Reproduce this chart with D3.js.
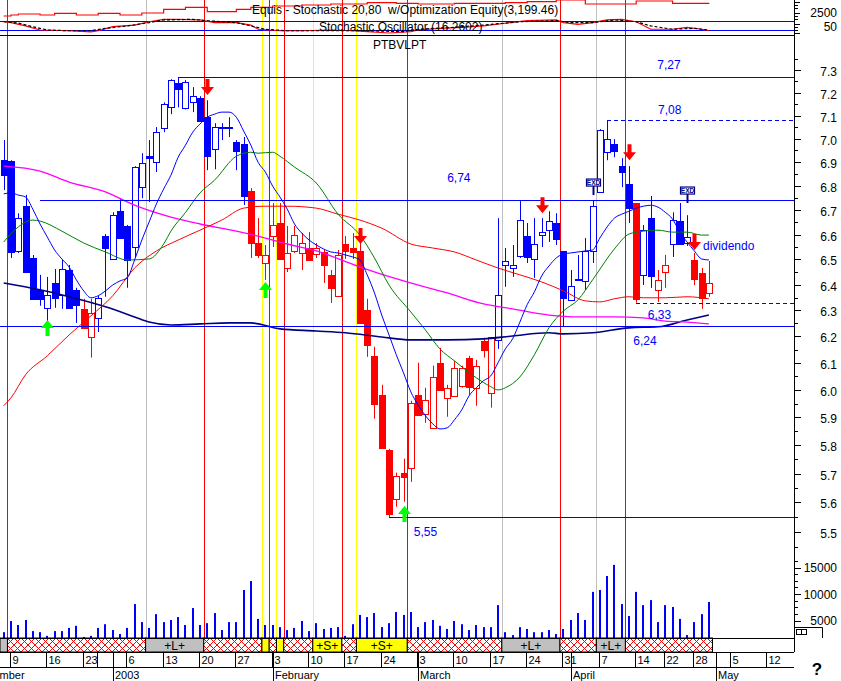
<!DOCTYPE html>
<html><head><meta charset="utf-8">
<script src="https://cdn.jsdelivr.net/npm/d3@7"></script>
<style>body{margin:0;background:#fff}svg{display:block;font-family:"Liberation Sans",Arial,sans-serif}text{white-space:pre}</style>
</head><body><svg id="c" width="841" height="681"></svg>
<script>
// ---------------- DATA ----------------
const dates = ["2002-12-06","2002-12-09","2002-12-10","2002-12-11","2002-12-12","2002-12-13",
"2002-12-16","2002-12-17","2002-12-18","2002-12-19","2002-12-20","2002-12-23","2002-12-24","2002-12-30","2002-12-31",
"2003-01-02","2003-01-03","2003-01-06","2003-01-07","2003-01-08","2003-01-09","2003-01-10",
"2003-01-13","2003-01-14","2003-01-15","2003-01-16","2003-01-17","2003-01-20","2003-01-21","2003-01-22","2003-01-23","2003-01-24",
"2003-01-27","2003-01-28","2003-01-29","2003-01-30","2003-01-31","2003-02-03","2003-02-04","2003-02-05","2003-02-06","2003-02-07",
"2003-02-10","2003-02-11","2003-02-12","2003-02-13","2003-02-14","2003-02-17","2003-02-18","2003-02-19","2003-02-20","2003-02-21",
"2003-02-24","2003-02-25","2003-02-26","2003-02-27","2003-02-28","2003-03-03","2003-03-04","2003-03-05","2003-03-06","2003-03-07",
"2003-03-10","2003-03-11","2003-03-12","2003-03-13","2003-03-14","2003-03-17","2003-03-18","2003-03-19","2003-03-20","2003-03-21",
"2003-03-24","2003-03-25","2003-03-26","2003-03-27","2003-03-28","2003-03-31","2003-04-01","2003-04-02","2003-04-03","2003-04-04",
"2003-04-07","2003-04-08","2003-04-09","2003-04-10","2003-04-11","2003-04-14","2003-04-15","2003-04-16","2003-04-17",
"2003-04-22","2003-04-23","2003-04-24","2003-04-25","2003-04-28","2003-04-29","2003-04-30"];
const futureDates = ["2003-05-01","2003-05-02","2003-05-05","2003-05-06","2003-05-07","2003-05-08","2003-05-09","2003-05-12","2003-05-13","2003-05-14","2003-05-15","2003-05-16"];

const opens = [6.908,6.904,6.534,6.716,6.506,6.380,6.310,6.407,6.361,6.458,6.380,6.306,6.198,6.271,6.594,
6.502,6.695,6.635,6.550,6.795,6.925,6.899,7.046,7.136,7.243,7.132,7.158,7.176,7.093,6.955,7.046,7.050,
6.985,6.977,6.779,6.566,6.486,6.594,6.647,6.466,6.534,6.526,6.546,6.522,6.530,6.439,6.357,6.562,6.546,6.534,6.302,6.127,
5.982,5.784,5.612,5.703,5.720,5.982,5.913,5.862,6.101,5.971,5.978,6.015,6.120,6.008,6.183,5.989,6.187,6.478,6.466,6.514,
6.594,6.502,6.598,6.618,6.647,6.534,6.341,6.419,6.415,6.534,6.775,6.942,6.977,6.883,6.808,6.729,6.439,6.667,6.380,
6.450,6.562,6.655,6.566,6.498,6.446,6.368];
const highs = [6.994,6.908,6.687,6.763,6.518,6.439,6.431,6.462,6.498,6.478,6.388,6.345,6.345,6.357,6.602,
6.691,6.745,6.639,6.883,6.938,6.994,7.050,7.158,7.260,7.270,7.256,7.225,7.185,7.167,7.067,7.067,7.093,
6.994,7.007,6.791,6.667,6.558,6.729,6.729,6.635,6.635,6.606,6.610,6.566,6.538,6.458,6.538,6.594,6.606,6.570,6.345,6.161,
6.019,5.787,5.703,5.752,5.960,6.101,6.008,6.090,6.157,6.019,6.108,6.090,6.127,6.112,6.195,6.198,6.667,6.546,6.558,6.737,
6.647,6.667,6.667,6.695,6.687,6.534,6.458,6.518,6.586,6.741,7.041,7.080,6.998,6.917,6.883,6.729,6.639,6.758,6.458,
6.518,6.691,6.729,6.679,6.526,6.466,6.494];
const lows = [6.783,6.506,6.526,6.446,6.341,6.318,6.255,6.310,6.306,6.306,6.252,6.229,6.120,6.217,6.353,
6.498,6.582,6.388,6.506,6.749,6.733,6.858,7.028,7.106,7.136,7.127,7.115,7.072,6.866,6.870,6.994,7.007,
6.866,6.721,6.506,6.506,6.419,6.550,6.498,6.450,6.526,6.458,6.494,6.506,6.407,6.329,6.353,6.502,6.502,6.248,6.123,5.895,
5.787,5.550,5.585,5.602,5.671,5.906,5.880,5.858,5.997,5.902,5.975,6.008,5.982,5.942,6.120,5.935,6.153,6.392,6.431,6.506,
6.486,6.427,6.550,6.570,6.558,6.237,6.337,6.415,6.380,6.486,6.771,6.908,6.921,6.795,6.647,6.330,6.399,6.388,6.333,
6.388,6.510,6.558,6.554,6.399,6.306,6.353];
const closes = [6.845,6.530,6.667,6.450,6.345,6.345,6.361,6.349,6.462,6.310,6.322,6.233,6.290,6.349,6.546,
6.679,6.586,6.498,6.879,6.895,6.917,7.028,7.149,7.256,7.216,7.247,7.185,7.076,6.925,7.050,7.050,7.046,
6.947,6.758,6.566,6.518,6.518,6.639,6.502,6.526,6.598,6.566,6.498,6.546,6.478,6.388,6.518,6.534,6.530,6.252,6.168,5.949,
5.791,5.561,5.692,5.689,5.953,5.909,5.964,6.048,6.000,6.008,6.082,6.082,6.012,6.090,6.150,6.198,6.361,6.494,6.478,6.659,
6.510,6.562,6.610,6.655,6.582,6.349,6.396,6.423,6.534,6.716,7.037,6.998,6.947,6.858,6.708,6.345,6.618,6.435,6.419,
6.478,6.659,6.562,6.590,6.423,6.349,6.407];
// candle colour group runs: B = blue, R = red
const candleGroupRuns = [["B",11],["R",2],["B",21],["R",34],["B",19],["R",1],["B",2],["R",2],["B",3],["R",3]];

const volumes = [2800,4900,4150,5100,3000,2800,2100,3000,3000,3600,4000,1900,2100,3600,4300,3200,2450,
3600,8100,4700,3600,6200,4700,5100,5650,4150,7350,4150,4500,6400,3200,4700,4700,10750,12450,5300,4150,
4150,3750,3200,3600,4900,3000,4500,3400,3600,3750,2100,4300,6050,5650,6400,3750,4500,6600,6050,6600,
3750,4700,5100,4000,3400,4900,4300,3200,4150,3750,3750,7900,2800,2250,3750,3400,2800,2800,3200,2450,
3400,5100,6400,5100,10400,10750,13400,15500,8100,5850,10400,7900,8850,4700,7900,7550,5300,2250,4700,6200,8500];

// Moving averages
const maBlue = [6.767,6.771,6.762,6.754,6.704,6.643,6.590,6.538,6.502,6.470,
6.419,6.376,6.349,6.357,6.376,6.399,6.415,6.427,6.498,6.578,
6.651,6.725,6.787,6.845,6.921,6.972,7.028,7.063,7.093,7.106,
7.115,7.115,7.093,7.033,6.972,6.899,6.858,6.799,6.754,6.704,
6.643,6.606,6.578,6.558,6.542,6.530,6.526,6.518,6.510,6.498,
6.439,6.368,6.282,6.206,6.131,6.063,5.993,5.945,5.906,5.877,
5.858,5.862,5.891,5.927,5.978,6.008,6.034,6.052,6.101,6.153,
6.191,6.255,6.322,6.372,6.435,6.474,6.506,6.522,6.526,6.530,
6.534,6.538,6.586,6.631,6.667,6.683,6.695,6.708,6.716,6.720,
6.712,6.691,6.663,6.610,6.570,6.534,6.502,6.498];
const maGreen = [[0,6.570],[2,6.631],[4,6.659],[5,6.655],[8,6.614],[11,6.566],[14,6.530],[17,6.498],[20,6.502],
[22,6.562],[23,6.614],[25,6.690],[27,6.771],[29,6.824],[32,6.925],[34,6.942],[35,6.938],[37,6.942],[38,6.925],
[40,6.879],[43,6.812],[46,6.683],[49,6.598],[51,6.506],[53,6.399],[56,6.294],[58,6.225],[60,6.153],[62,6.108],
[65,6.045],[67,6.012],[68,6.000],[69,6.008],[71,6.048],[73,6.131],[75,6.233],[77,6.298],[79,6.341],[81,6.419],
[84,6.542],[86,6.602],[88,6.614],[90,6.618],[92,6.610],[94,6.610],[96,6.598],[97,6.598]];
const maRed = [[0,5.942],[1,5.971],[3,6.056],[6,6.127],[9,6.206],[12,6.279],[15,6.357],[18,6.466],[21,6.534],
[24,6.578],[27,6.618],[30,6.659],[33,6.708],[36,6.716],[39,6.716],[43,6.708],[46,6.683],[49,6.659],[52,6.626],
[56,6.562],[59,6.546],[62,6.530],[65,6.498],[68,6.466],[71,6.439],[74,6.411],[77,6.376],[80,6.337],[82,6.333],
[84,6.345],[86,6.353],[88,6.349],[91,6.349],[94,6.353],[97,6.345]];
const maMagenta = [[0,6.883],[5,6.862],[9,6.816],[14,6.775],[18,6.720],[23,6.671],[27,6.643],[32,6.614],[36,6.586],
[39,6.562],[43,6.534],[49,6.470],[55,6.415],[61,6.368],[66,6.325],[70,6.306],[75,6.282],[79,6.275],[84,6.275],
[88,6.271],[91,6.259],[94,6.255],[97,6.248]];
const maNavy = [[0,6.407],[5,6.380],[9,6.353],[14,6.314],[18,6.275],[20,6.255],[23,6.244],[27,6.248],[31,6.252],
[34,6.252],[38,6.229],[43,6.221],[47,6.214],[52,6.198],[56,6.187],[61,6.187],[66,6.191],[70,6.202],[75,6.214],
[77,6.210],[81,6.214],[86,6.233],[90,6.237],[94,6.263],[97,6.282]];

// top panel: optimisation equity and stochastic oscillator
const equity = [[0,2284],[1,2356],[2,2428],[5,2356],[7,2478],[10,2356],[13,2478],[16,2356],[19,2500],[22,2766],
[25,2910],[28,2594],[32,2766],[34,2910],[37,3004],[41,3076],[45,3148],[50,3242],[54,3198],[57,3148],[62,3198],
[69,3242],[72,3314],[76,3436],[80,3148],[85,3148],[87,3364],[92,3198],[97,3199]];
const stochK = [[0,75],[1,69],[3,47],[5,20],[9,15],[12,7],[13,15],[15,42],[18,53],[20,75],[22,91],[24,91],[27,87],
[29,69],[32,69],[34,53],[35,25],[38,15],[41,15],[45,20],[48,15],[50,9],[53,0],[56,9],[57,20],[60,31],[63,38],
[66,47],[69,65],[72,82],[76,87],[77,69],[79,58],[81,69],[83,87],[85,91],[87,75],[89,25],[92,25],[94,38],[96,25],[97,15]];
const stochD = [[0,75],[2,66],[4,42],[6,20],[9,15],[12,15],[14,31],[17,47],[20,69],[22,87],[26,91],[28,82],[32,69],
[34,47],[36,25],[39,15],[45,15],[50,15],[55,9],[57,25],[62,38],[66,53],[71,75],[76,82],[78,69],[81,69],[84,87],
[87,75],[89,47],[92,25],[95,31],[97,20]];

// system signals (bar index where they take effect)
const signalIdx  = [1,20,28,36,37,38,39,43,47,49,56,69,77,82,86];
const signalType = ["X","L","X","S","X","S","X","S","X","S","X","L","X","L","X"];

// horizontal levels
const levelPrice = [7.27,7.08,6.74,6.33,6.24,5.55];
const levelLabel = ["7,27","7,08","6,74","6,33","6,24","5,55"];
const levelStart = [24,83,5,87,-1,53];
const levelLabelIdx = [89.9,90,61,88.6,86.6,56.4];

// arrows
const downArrowIdx = [28,49,74,86,95];
const downArrowPrice = [7.19,6.562,6.687,6.908,6.538];
const upArrowIdx = [6,36,55];
const upArrowPrice = [6.263,6.411,5.588];
// ex-dividend markers
const exdIdx = [81,94];
const exdPrice = [6.762,6.729];

// axis labels
const weekTickDates = ["2002-12-09","2002-12-16","2002-12-23","2002-12-30","2003-01-06","2003-01-13","2003-01-20","2003-01-27",
"2003-02-03","2003-02-10","2003-02-17","2003-02-24","2003-03-03","2003-03-10","2003-03-17","2003-03-24","2003-03-31",
"2003-04-07","2003-04-14","2003-04-22","2003-04-28","2003-05-05","2003-05-12"];
const weekTickLabels = ["9","16","23","","6","13","20","27","3","10","17","24","3","10","17","24","31","7","14","22","28","5","12"];
const monthStartDates = ["2003-01-02","2003-02-03","2003-03-03","2003-04-01","2003-05-01"];
const monthLabels = ["2003","February","March","April","May"];
const priceTickLabels = [5.5,5.6,5.7,5.8,5.9,6.0,6.1,6.2,6.3,6.4,6.5,6.6,6.7,6.8,6.9,7.0,7.1,7.2,7.3];
const volumeTickLabels = [5000,10000,15000];

// ---------------- CHART ----------------
const svg = d3.select("#c");
const slots = dates.concat(futureDates);
const idxOf = d => slots.indexOf(d);
const candleGroup = candleGroupRuns.flatMap(([g,n]) => Array(n).fill(g));
const AX = 794;          // right axis position
const STRIP_T = 638, STRIP_B = 652;

const x = d3.scaleLinear().domain([0,105]).range([3.7, 767.05]);
const y = d3.scaleLog().domain([5.55, 7.27]).range([517, 77]);
const yv = d3.scaleLinear().domain([0,15000]).range([647, 567.5]);
const yEq = d3.scaleLinear().domain([2500,3436]).range([13,0]);
const ySt = d3.scaleLinear().domain([0,100]).range([33,18]);

const defs = svg.append("defs");
defs.append("clipPath").attr("id","clipAll").append("rect").attr("x",0).attr("y",0).attr("width",AX).attr("height",STRIP_T);
defs.append("clipPath").attr("id","clipTop").append("rect").attr("x",0).attr("y",0).attr("width",AX).attr("height",35);
const pat = defs.append("pattern").attr("id","hatch").attr("patternUnits","userSpaceOnUse")
  .attr("width",7).attr("height",7).attr("x",0).attr("y",STRIP_T);
pat.append("rect").attr("width",7).attr("height",7).attr("fill","#fff");
pat.append("path").attr("d","M0,0L7,7M7,0L0,7M-1,6L1,8M6,-1L8,1").attr("stroke","#ff0000").attr("stroke-width",1);

const colors = {X:"#ff0000", L:"#c0c0c0", S:"#ffff00"};

// signal vertical lines
const gSig = svg.append("g");
signalIdx.forEach((si,k) => {
  const bx = Math.round(x(si) - 3.5) + 0.5;
  gSig.append("line").attr("x1",bx).attr("x2",bx).attr("y1",0).attr("y2",STRIP_T)
    .attr("stroke",colors[signalType[k]]).attr("stroke-width",1);
});

// ---- top panel ----
const gTop = svg.append("g").attr("clip-path","url(#clipTop)");
[80,20].forEach(v => gTop.append("line").attr("x1",0).attr("x2",AX)
  .attr("y1",Math.round(ySt(v))+0.5).attr("y2",Math.round(ySt(v))+0.5).attr("stroke","#0000ff"));
gTop.append("path").datum(equity).attr("fill","none").attr("stroke","#ff0000").attr("stroke-width",1.2)
  .attr("d", d3.line().x(d=>x(d[0])).y(d=>yEq(d[1])).curve(d3.curveStepAfter));
gTop.append("path").datum(stochK).attr("fill","none").attr("stroke","#ff0000").attr("stroke-width",1.2)
  .attr("d", d3.line().x(d=>x(d[0])).y(d=>ySt(d[1])));
gTop.append("path").datum(stochD).attr("fill","none").attr("stroke","#000").attr("stroke-width",1.2)
  .attr("stroke-dasharray","3,2").attr("d", d3.line().x(d=>x(d[0])).y(d=>ySt(d[1])));
svg.append("line").attr("x1",0).attr("x2",AX).attr("y1",35.5).attr("y2",35.5).attr("stroke","#000");
svg.append("text").attr("x",252).attr("y",14).attr("font-size",12).attr("fill","#000")
  .text("Equis - Stochastic 20,80  w/Optimization Equity(3,199.46)");
svg.append("text").attr("x",319).attr("y",31).attr("font-size",12).attr("fill","#000")
  .text("Stochastic Oscillator (16.2602)");
svg.append("text").attr("x",373).attr("y",49).attr("font-size",12).attr("fill","#000").text("PTBVLPT");

// ---- main price panel ----
const gMain = svg.append("g").attr("clip-path","url(#clipAll)");

// volume bars
volumes.forEach((v,i) => {
  const cx = Math.round(x(i));
  gMain.append("rect").attr("x",cx-1).attr("y",yv(v)).attr("width",2).attr("height",Math.max(0,STRIP_T-yv(v)))
    .attr("fill","#0000ff");
});

// candles
dates.forEach((d,i) => {
  const cx = Math.round(x(i));
  const col = candleGroup[i] === "B" ? "#0000ff" : "#ff0000";
  const o = opens[i], c = closes[i];
  gMain.append("line").attr("x1",cx+0.5).attr("x2",cx+0.5).attr("y1",y(highs[i])).attr("y2",y(lows[i]))
    .attr("stroke",col).attr("stroke-width",1);
  const t = Math.round(y(Math.max(o,c))), b = Math.round(y(Math.min(o,c)));
  gMain.append("rect").attr("x",cx-2.5).attr("y",t+0.5).attr("width",6).attr("height",Math.max(1,b-t))
    .attr("fill", c >= o ? "#fff" : col).attr("stroke",col).attr("stroke-width",1);
});

// moving averages
const lineIdx = d3.line().x(d=>x(d[0])).y(d=>y(d[1])).curve(d3.curveMonotoneX);
gMain.append("path").datum(maNavy).attr("fill","none").attr("stroke","#000080").attr("stroke-width",1.6).attr("d",lineIdx);
gMain.append("path").datum(maMagenta).attr("fill","none").attr("stroke","#ff00ff").attr("stroke-width",1.3).attr("d",lineIdx);
gMain.append("path").datum(maRed).attr("fill","none").attr("stroke","#ff0000").attr("stroke-width",1).attr("d",lineIdx);
gMain.append("path").datum(maGreen).attr("fill","none").attr("stroke","#008000").attr("stroke-width",1).attr("d",lineIdx);
gMain.append("path").datum(maBlue.map((v,i)=>[i,v])).attr("fill","none").attr("stroke","#0000ff").attr("stroke-width",1).attr("d",lineIdx);

// horizontal levels
const levelDashed = [false,true,false,true,false,false];
const labelDy = [-9,-7,-19,15,18,18];
levelPrice.forEach((p,k) => {
  const yy = Math.round(y(p)) + 0.5;
  const x0 = levelStart[k] < 0 ? 0 : Math.round(x(levelStart[k]));
  gMain.append("line").attr("x1",x0).attr("x2",AX).attr("y1",yy).attr("y2",yy)
    .attr("stroke","#0000ff").attr("stroke-width",1.2).attr("stroke-dasharray", levelDashed[k] ? "4,3" : null);
  svg.append("text").attr("x",x(levelLabelIdx[k])).attr("y",yy+labelDy[k]).attr("font-size",12)
    .attr("fill","#0000ff").text(levelLabel[k]);
});
svg.append("text").attr("x",703).attr("y",250).attr("font-size",12).attr("fill","#0000ff").text("dividendo");

// arrows
function arrow(cx, tip, dir, col) {
  const s = dir; // 1 = down (tip below), -1 = up
  const p = [[cx-2,tip-s*16],[cx+2,tip-s*16],[cx+2,tip-s*8],[cx+6.5,tip-s*8],[cx,tip],[cx-6.5,tip-s*8],[cx-2,tip-s*8]];
  gMain.append("path").attr("d","M"+p.map(q=>q.join(",")).join("L")+"Z").attr("fill",col);
}
downArrowIdx.forEach((i,k)=>arrow(Math.round(x(i))+0.5, y(downArrowPrice[k]), 1, "#ff0000"));
upArrowIdx.forEach((i,k)=>arrow(Math.round(x(i))+0.5, y(upArrowPrice[k]), -1, "#00ff00"));

// EXD markers
exdIdx.forEach((i,k) => {
  const cx = Math.round(x(i)) + 0.5, yb = y(exdPrice[k]);
  gMain.append("line").attr("x1",cx).attr("x2",cx).attr("y1",yb).attr("y2",yb-9).attr("stroke","#000080").attr("stroke-width",2);
  gMain.append("rect").attr("x",cx-7).attr("y",yb-16).attr("width",14).attr("height",7)
    .attr("fill","#fff").attr("stroke","#000080").attr("stroke-width",1.2);
  gMain.append("text").attr("x",cx).attr("y",yb-10.3).attr("text-anchor","middle").attr("font-size",6.5)
    .attr("font-weight","bold").attr("fill","#000080").text("EXD");
});

// ---- signal strip ----
const gStrip = svg.append("g");
const bounds = [0].concat(signalIdx.map(si => x(si) - 3.5)).concat([x(dates.length - 1) + 3.6]);
const segType = ["L"].concat(signalType);
segType.forEach((t,k) => {
  const x0 = bounds[k], x1 = bounds[k+1];
  gStrip.append("rect").attr("x",x0).attr("y",STRIP_T).attr("width",x1-x0).attr("height",STRIP_B-STRIP_T)
    .attr("fill", t === "X" ? "url(#hatch)" : colors[t]).attr("stroke","#000").attr("stroke-width",1);
  if (t !== "X" && x1 - x0 > 20) {
    gStrip.append("text").attr("x",(x0+x1)/2).attr("y",STRIP_B-2.5).attr("text-anchor","middle")
      .attr("font-size",12).attr("fill","#000").text(t === "L" ? "+L+" : "+S+");
  }
});
[STRIP_T, STRIP_B, 667].forEach(yy => svg.append("line").attr("x1",0).attr("x2",AX)
  .attr("y1",yy+0.5).attr("y2",yy+0.5).attr("stroke","#000"));

// ---- date axis ----
weekTickDates.forEach((d,k) => {
  const tx = Math.round(x(idxOf(d))) - 0.5;
  svg.append("line").attr("x1",tx).attr("x2",tx).attr("y1",STRIP_B).attr("y2",667).attr("stroke","#000");
  svg.append("text").attr("x",tx+2).attr("y",664).attr("font-size",11).attr("fill","#000").text(weekTickLabels[k]);
});
monthStartDates.forEach((d,k) => {
  const tx = Math.round(x(idxOf(d))) + 0.5;
  svg.append("line").attr("x1",tx).attr("x2",tx).attr("y1",STRIP_B).attr("y2",681).attr("stroke","#000");
  svg.append("text").attr("x",tx+1.5).attr("y",679).attr("font-size",11).attr("fill","#000").text(monthLabels[k]);
});
// the December label starts before the visible window, as in the original
svg.append("text").attr("x",x(-4.1)).attr("y",679).attr("font-size",11).attr("fill","#000").text("December");

// ---- right axis ----
const gAx = svg.append("g");
gAx.append("line").attr("x1",AX+0.5).attr("x2",AX+0.5).attr("y1",0).attr("y2",STRIP_B).attr("stroke","#000");
d3.range(5.45, 7.40, 0.05).forEach(p => {
  const yy = Math.round(y(p)) + 0.5;
  const major = Math.abs(p*10 - Math.round(p*10)) < 0.01;
  gAx.append("line").attr("x1",AX).attr("x2",AX + (major ? 7 : 4)).attr("y1",yy).attr("y2",yy).attr("stroke","#000");
});
priceTickLabels.forEach(p => gAx.append("text").attr("x",837).attr("y",y(p)+6).attr("text-anchor","end")
  .attr("font-size",12).attr("fill","#000").text(p.toFixed(1)));
d3.range(2500, 16300, 1250).forEach(v => {
  const yy = Math.round(yv(v)) + 0.5;
  if (yy > 628) return;
  const major = v % 5000 === 0;
  gAx.append("line").attr("x1",AX).attr("x2",AX + (major ? 7 : 4)).attr("y1",yy).attr("y2",yy).attr("stroke","#000");
});
volumeTickLabels.forEach(v => gAx.append("text").attr("x",837).attr("y",yv(v)+4.5).attr("text-anchor","end")
  .attr("font-size",12).attr("fill","#000").text(v));
// top panel ticks and labels
[2,5,8,13,16,19,24,27,30,33].forEach((yy,k) => gAx.append("line").attr("x1",AX).attr("x2",AX+(k%3===0?6:4))
  .attr("y1",yy+0.5).attr("y2",yy+0.5).attr("stroke","#000"));
gAx.append("text").attr("x",837).attr("y",17).attr("text-anchor","end").attr("font-size",12).text("2500");
gAx.append("text").attr("x",837).attr("y",31).attr("text-anchor","end").attr("font-size",12).text("50");
// small panel marker
gAx.append("path").attr("d","M794,627.5H822.5V638").attr("fill","none").attr("stroke","#000");
gAx.append("rect").attr("x",796.5).attr("y",629.5).attr("width",5).attr("height",5).attr("fill","none").attr("stroke","#000");
gAx.append("rect").attr("x",801.5).attr("y",629.5).attr("width",5).attr("height",5).attr("fill","none").attr("stroke","#000");
gAx.append("text").attr("x",817).attr("y",675).attr("text-anchor","middle").attr("font-size",17)
  .attr("font-weight","bold").text("?");
</script></body></html>
